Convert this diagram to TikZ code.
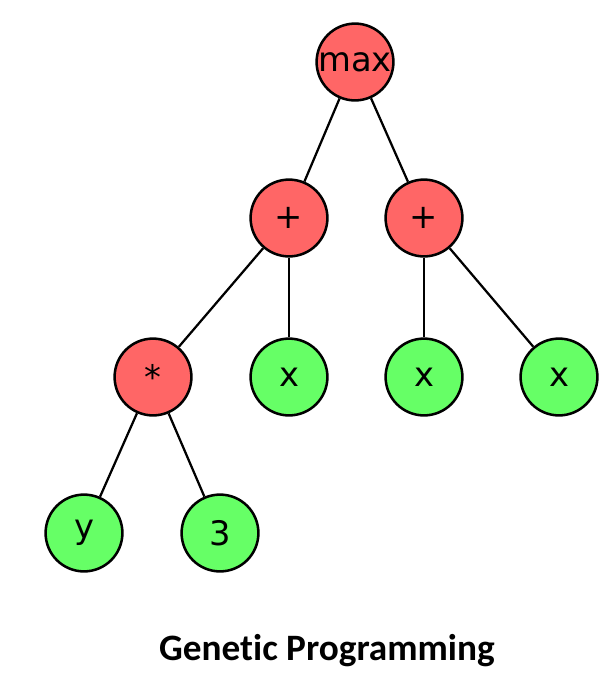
\documentclass[tikz,border=0pt]{standalone}
\usepackage{fontspec}
\setmainfont{DejaVu Sans}
\newfontfamily\capfont[Ligatures=NoCommon]{Carlito}
\usetikzlibrary{positioning}
\definecolor{opnode}{RGB}{255,102,102}
\definecolor{leafnode}{RGB}{102,255,102}

\begin{document}
\begin{tikzpicture}[x=0.025cm, y=-0.025cm,
    op/.style={circle, draw, line width=1.8pt, fill=opnode, minimum size=1.92cm, inner sep=0pt, font=\fontsize{24}{28}\selectfont},
    leaf/.style={op, fill=leafnode},
    edge/.style={line width=1.6pt, black},
]
\useasboundingbox (0,0) rectangle (610,677);

% Operators
\node[op] (max) at (355,62) {max};
\node[op] (plusl) at (289,218) {+};
\node[op] (plusr) at (424,218) {+};
\node[op] (mul) at (153,377) {*};

% Terminals
\node[leaf] (x1) at (289,377) {x};
\node[leaf] (x2) at (424,377) {x};
\node[leaf] (x3) at (559,377) {x};
\node[leaf] (y) at (84,533) {y};
\node[leaf] (three) at (220,533) {3};

% Edges
\draw[edge] (max) -- (plusl);
\draw[edge] (max) -- (plusr);
\draw[edge] (plusl) -- (mul);
\draw[edge] (plusl) -- (x1);
\draw[edge] (plusr) -- (x2);
\draw[edge] (plusr) -- (x3);
\draw[edge] (mul) -- (y);
\draw[edge] (mul) -- (three);

% Caption
\node[font=\capfont\bfseries\fontsize{26.5}{30}\selectfont] (caption) at (327,651) {Genetic Programming};
\end{tikzpicture}
\end{document}
